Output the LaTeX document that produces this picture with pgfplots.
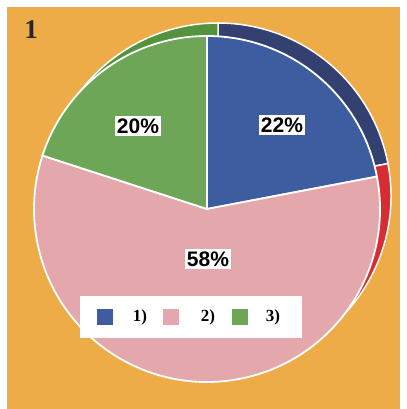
\documentclass[border=0pt]{standalone}
\usepackage{pgfplots}
\pgfplotsset{compat=1.18}
\usepackage{fontspec}
\setmainfont{Liberation Serif}
\newfontfamily\labelfont{Liberation Sans}

\definecolor{bgorange}{RGB}{238,172,72}
\definecolor{faceblue}{RGB}{62,92,160}
\definecolor{bandblue}{RGB}{52,64,112}
\definecolor{facepink}{RGB}{228,168,172}
\definecolor{bandred}{RGB}{214,44,50}
\definecolor{facegreen}{RGB}{108,166,86}
\definecolor{bandgreen}{RGB}{84,146,62}

% shares in percent
\def\pA{22}
\def\pB{58}
\def\pC{20}

\begin{document}
\begin{tikzpicture}
\begin{axis}[
    x=1bp, y=1bp,
    xmin=0, xmax=400, ymin=0, ymax=409,
    hide axis, clip=false
]
% background
\fill[white] (axis cs:0,0) rectangle (axis cs:400,409);
\fill[bgorange] (axis cs:7,0) rectangle (axis cs:400,402);

% back rim (shifted disc)
\filldraw[fill=bandblue, draw=white, line width=1.5bp]
    (axis cs:218,213) -- ++(90:173bp)
    arc[start angle=90, end angle={90-3.6*\pA}, radius=173bp] -- cycle;
\filldraw[fill=bandred, draw=white, line width=1.5bp]
    (axis cs:218,213) -- ++({90-3.6*\pA}:173bp)
    arc[start angle={90-3.6*\pA}, end angle={-270+3.6*\pC}, radius=173bp] -- cycle;
\filldraw[fill=bandgreen, draw=white, line width=1.5bp]
    (axis cs:218,213) -- ++({90+3.6*\pC}:173bp)
    arc[start angle={90+3.6*\pC}, end angle=90, radius=173bp] -- cycle;

% top face
\filldraw[fill=faceblue, draw=white, line width=1.8bp]
    (axis cs:207,200) -- ++(90:173bp)
    arc[start angle=90, end angle={90-3.6*\pA}, radius=173bp] -- cycle;
\filldraw[fill=facepink, draw=white, line width=1.8bp]
    (axis cs:207,200) -- ++({90-3.6*\pA}:173bp)
    arc[start angle={90-3.6*\pA}, end angle={-270+3.6*\pC}, radius=173bp] -- cycle;
\filldraw[fill=facegreen, draw=white, line width=1.8bp]
    (axis cs:207,200) -- ++({90+3.6*\pC}:173bp)
    arc[start angle={90+3.6*\pC}, end angle=90, radius=173bp] -- cycle;

% percentage labels
\tikzset{pct/.style={fill=white, inner xsep=1.5bp, inner ysep=3bp, text=black,
    font=\labelfont\bfseries\fontsize{21bp}{23bp}\selectfont}}
\node[pct] at (axis cs:282,284) {\pA\%};
\node[pct] at (axis cs:138,283) {\pC\%};
\node[pct] at (axis cs:208,150) {\pB\%};

% legend
\fill[white] (axis cs:80,71) rectangle (axis cs:302,113);
\fill[faceblue] (axis cs:97,84) rectangle (axis cs:113,100);
\fill[facepink] (axis cs:163,84) rectangle (axis cs:179,100);
\fill[facegreen] (axis cs:232,84) rectangle (axis cs:248,100);
\tikzset{leg/.style={inner sep=0pt, text=black,
    font=\bfseries\fontsize{17bp}{19bp}\selectfont}}
\node[leg] at (axis cs:140,92) {1)};
\node[leg] at (axis cs:208,92) {2)};
\node[leg] at (axis cs:273,92) {3)};

% panel number
\node[inner sep=0pt, text=black!85, font=\bfseries\fontsize{27bp}{29bp}\selectfont]
    at (axis cs:31,379) {1};
\end{axis}
\end{tikzpicture}
\end{document}
